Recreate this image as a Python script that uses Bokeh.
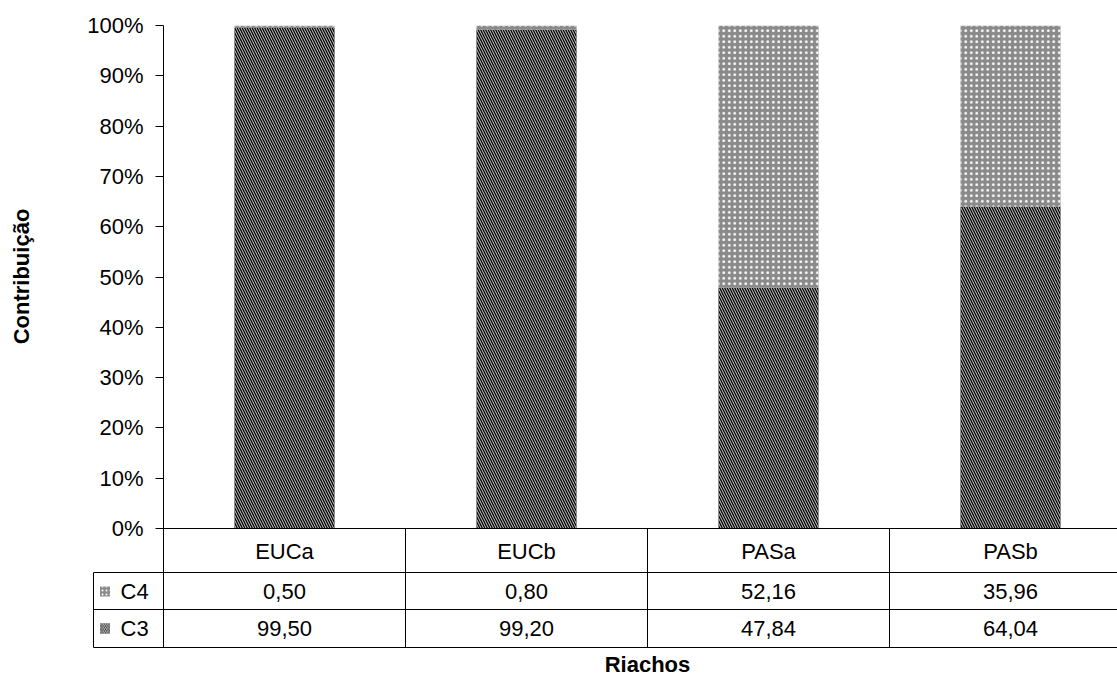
from bokeh.plotting import figure
from bokeh.models import Range1d, NumeralTickFormatter, FixedTicker
from bokeh.core.properties import value
from bokeh.embed import file_html
from bokeh.resources import INLINE
import math

# ---- data ----
categories = ["EUCa", "EUCb", "PASa", "PASb"]
c3_values = [99.50, 99.20, 47.84, 64.04]
c4_values = [0.50, 0.80, 52.16, 35.96]
series_names = ["C4", "C3"]
y_ticks = [0, 10, 20, 30, 40, 50, 60, 70, 80, 90, 100]

FONT = "Liberation Sans"
FS = "22px"

# layout helpers (image pixel -> data units)
X0, CW = 163.0, 242.0          # left of category area, category width in px
Y0, YH = 528.0, 503.0          # pixel of 0%, pixel height of 100%
def xd(px):
    return (px - X0) / CW
def yd(py):
    return (Y0 - py) / YH

W, H = 1117, 679
p = figure(width=W, height=H, output_backend="svg", toolbar_location=None,
           x_range=Range1d(0, xd(1117)), y_range=Range1d(yd(647), 1.0),
           min_border_left=163, min_border_right=0, min_border_top=25,
           min_border_bottom=32)
p.outline_line_color = None
p.xgrid.visible = False
p.ygrid.visible = False
p.xaxis.visible = False

ya = p.yaxis[0]
ya.ticker = FixedTicker(ticks=[t / 100 for t in y_ticks])
ya.formatter = NumeralTickFormatter(format="0%")
ya.major_tick_out = 8
ya.major_tick_in = 0
ya.minor_tick_out = 0
ya.minor_tick_in = 0
ya.major_label_standoff = 12
ya.major_label_text_font = FONT
ya.major_label_text_font_size = FS
ya.major_label_text_color = "black"
ya.axis_line_color = "black"
ya.major_tick_line_color = "black"

xs = [i + 0.5 for i in range(len(categories))]
c3 = [v / 100 for v in c3_values]
c4 = [v / 100 for v in c4_values]
c4_top = [a + b for a, b in zip(c3, c4)]

c3_style = dict(fill_color="black", hatch_pattern="\\", hatch_color="#d0d0d0",
                hatch_scale=5, hatch_weight=1.0, line_color=None)
c4_style = dict(fill_color="#8a8a8a", hatch_pattern=".", hatch_color="white",
                hatch_scale=5.5, hatch_weight=3.5, line_color=None)

bw = 100 / CW
p.vbar(x=xs, top=c3, bottom=0, width=bw, **c3_style)
p.vbar(x=xs, top=c4_top, bottom=c3, width=bw, **c4_style)

# ---- data table ----
lc = "black"
xr = xd(1117)
xl = xd(93)
rows_y = [yd(528), yd(572), yd(609), yd(647)]
p.segment(x0=[0, xl, xl, xl], y0=rows_y, x1=[xr] * 4, y1=rows_y,
          line_color=lc, line_width=1, level="overlay")
p.segment(x0=[xl, 1, 2, 3], y0=[rows_y[1], rows_y[0], rows_y[0], rows_y[0]],
          x1=[xl, 1, 2, 3], y1=[rows_y[3]] * 4,
          line_color=lc, line_width=1, level="overlay")

fmt = lambda v: ("%.2f" % v).replace(".", ",")
p.text(x=xs, y=[yd(551)] * 4, text=categories, text_font=value(FONT),
       text_font_size=FS, text_align="center", text_baseline="middle",
       text_color="black", level="overlay")
p.text(x=xs, y=[yd(591)] * 4, text=[fmt(v) for v in c4_values], text_font=value(FONT),
       text_font_size=FS, text_align="center", text_baseline="middle",
       text_color="black", level="overlay")
p.text(x=xs, y=[yd(628)] * 4, text=[fmt(v) for v in c3_values], text_font=value(FONT),
       text_font_size=FS, text_align="center", text_baseline="middle",
       text_color="black", level="overlay")

# legend keys in the table
p.rect(x=[xd(104.5)], y=[yd(591)], width=10, height=10, width_units="screen",
       height_units="screen", level="overlay", **dict(c4_style, hatch_scale=4, hatch_weight=2.2))
p.rect(x=[xd(104.5)], y=[yd(628)], width=10, height=10, width_units="screen",
       height_units="screen", level="overlay", **dict(c3_style, hatch_scale=3.5, hatch_weight=1))
p.text(x=[xd(120)] * 2, y=[yd(591), yd(628)], text=series_names, text_font=value(FONT),
       text_font_size=FS, text_align="left", text_baseline="middle",
       text_color="black", level="overlay")

# axis titles
p.text(x=[xd(21)], y=[yd(276)], text=["Contribuição"], angle=math.pi / 2,
       text_font=value(FONT), text_font_size=FS, text_font_style="bold",
       text_align="center", text_baseline="middle", text_color="black", level="overlay")
p.text(x=[2.0], y=[yd(664)], text=["Riachos"],
       text_font=value(FONT), text_font_size=FS, text_font_style="bold",
       text_align="center", text_baseline="middle", text_color="black", level="overlay")

open("out.html", "w").write(file_html(p, INLINE))
